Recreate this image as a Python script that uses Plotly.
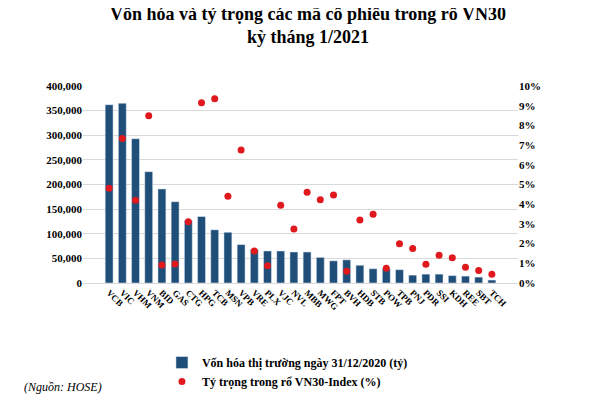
import plotly.graph_objects as go

codes = ["VCB","VIC","VHM","VNM","BID","GAS","CTG","HPG","TCB","MSN","VPB","VRE","PLX","VJC","NVL","MBB","MWG","FPT","BVH","HDB","STB","POW","TPB","PNJ","PDR","SSI","KDH","REE","SBT","TCH"]
von_hoa = [362000,365000,293000,226000,191000,165000,127000,135000,108000,103000,78000,68000,65000,65000,63000,63000,52000,45000,47000,36000,29000,29000,27000,16000,18000,18000,15000,14000,12000,6000]
ty_trong = [4.81,7.33,4.2,8.49,0.92,0.97,3.11,9.15,9.35,4.4,6.75,1.62,0.87,3.95,2.74,4.61,4.22,4.47,0.6,3.2,3.49,0.75,1.99,1.75,0.95,1.41,1.28,0.8,0.63,0.44]
left_ticks = list(range(0, 400001, 50000))
right_ticks = list(range(0, 11))
right_labels = [f"<b>{v}%</b>" for v in right_ticks]
left_labels = [f"<b>{v:,}</b>" for v in left_ticks]

font = "Liberation Serif"
fig = go.Figure()
fig.add_bar(x=codes, y=von_hoa, name="<b>Vốn hóa thị trường ngày 31/12/2020 (tỷ)</b>",
            marker_color="#1F4E79", width=0.6)
fig.add_scatter(x=codes, y=ty_trong, yaxis="y2", mode="markers",
                name="<b>Tỷ trọng trong rổ VN30-Index (%)</b>",
                marker=dict(color="#E0191E", size=7))
fig.update_layout(
    width=600, height=400, margin=dict(l=75, r=90, t=78, b=125),
    plot_bgcolor="white", paper_bgcolor="white",
    font=dict(family=font, color="black", size=11),
    title=dict(text="<b>Vốn hóa và tỷ trọng các mã cổ phiếu trong rổ VN30<br>kỳ tháng 1/2021</b>",
               x=0.5, y=0.97, xanchor="center", yanchor="top", font=dict(size=18)),
    xaxis=dict(tickangle=45, tickfont=dict(size=9), showline=True, linecolor="#d9d9d9", ticks="",
               tickprefix="<b>", ticksuffix="</b>"),
    yaxis=dict(range=[0, 400000], tickvals=left_ticks, ticktext=left_labels, gridcolor="#d9d9d9",
               tickfont=dict(size=11), zeroline=False),
    yaxis2=dict(overlaying="y", side="right", range=[0, 10], tickvals=right_ticks,
                ticktext=right_labels, showgrid=False, tickfont=dict(size=11), zeroline=False),
    legend=dict(orientation="h", x=0.47, xanchor="center", y=-0.33, yanchor="top",
                font=dict(size=12), entrywidth=0, itemwidth=30),
    bargap=0.4,
)
fig.add_annotation(text="<i>(Nguồn: HOSE)</i>", xref="paper", yref="paper", x=-0.14, y=-0.53,
                   xanchor="left", yanchor="middle", showarrow=False, font=dict(size=12))
fig.write_html("out.html")
